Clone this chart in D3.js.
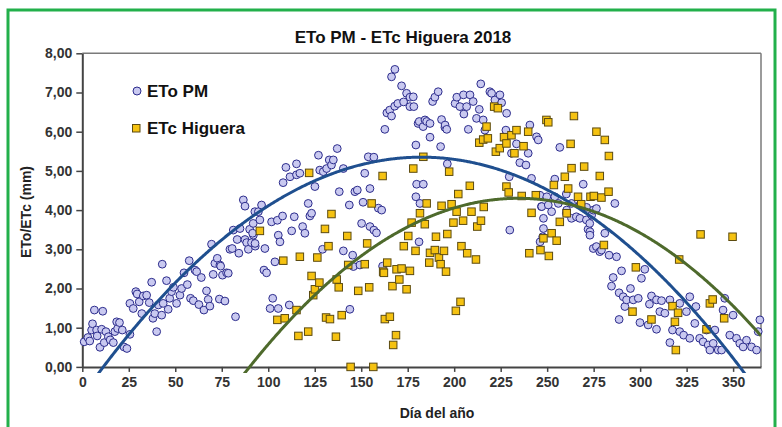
<!DOCTYPE html>
<html><head><meta charset="utf-8">
<script src="https://cdn.jsdelivr.net/npm/d3@7"></script>
<style>body{margin:0;background:#fff}svg{display:block}text{font-family:"Liberation Sans",Arial,sans-serif}</style>
</head><body><svg id="c" width="782" height="427"></svg>
<script>
const title = "ETo PM - ETc Higuera 2018";
const seriesNames = ["ETo PM", "ETc Higuera"];
const xTicks = [0,25,50,75,100,125,150,175,200,225,250,275,300,325,350];
const yTicks = [0,1,2,3,4,5,6,7,8];
// [day, mm]
const etoPoints = [
[1,0.64],[3,0.75],[4,0.66],[5,0.94],[5.5,1.1],[6.5,1.45],[7.7,0.94],[8,0.79],[9.5,0.5],[10.4,0.96],[11,1.42],[11.8,0.62],[12.7,0.9],[14,0.77],[15,0.69],[16.7,0.62],[17.5,0.9],[18.5,1.15],[19,0.98],[20,1.13],[21.5,0.94],[22.4,0.51],[24,0.47],[25.6,0.83],[25.6,1.62],[27.4,1.49],[28.8,1.92],[29.5,1.86],[30.6,1.66],[32,1.36],[32.8,1.81],[34.6,1.83],[36,1.64],[37.3,2.16],[38,1.24],[39,1.36],[40,0.9],[40.9,1.58],[42.7,1.32],[43,2.62],[43.5,1.62],[45.3,2.2],[46.2,1.47],[47,1.75],[48,1.92],[49,2.03],[50.7,1.62],[52.5,1.83],[53.4,2.0],[54.7,2.4],[56.5,2.1],[57.5,2.71],[58.2,1.75],[59.7,1.69],[60.6,2.47],[61.5,2.43],[62.7,1.59],[64,2.28],[65.4,1.45],[66.8,1.94],[67.7,1.72],[68.6,1.55],[69.5,3.13],[70.4,2.36],[71.3,2.64],[72.6,2.77],[73.7,1.73],[74,2.6],[74.4,2.57],[75.4,2.34],[76.7,1.68],[77.6,2.4],[78.5,2.39],[79.4,3.0],[80.6,3.02],[81.2,3.49],[82.4,1.28],[83.3,3.25],[84.2,2.9],[84.8,3.53],[86.6,4.26],[87.5,4.1],[87.5,3.25],[88.4,3.17],[89.3,3.0],[90,3.51],[91,3.17],[92,3.36],[92.8,3.96],[93,3.08],
[91.6,3.41],[91.9,3.66],[92.9,3.15],[94.7,3.96],[95.5,3.75],[96.4,4.13],[97.7,2.47],[98.2,3.02],[99.1,2.4],[101,1.49],[101.8,3.7],[102.4,1.75],[103.6,2.68],[104.9,3.74],[105.4,3.36],[105.4,1.49],[106.3,3.19],[107.7,3.85],[108,4.7],[109.5,5.09],[111.3,1.58],[111.7,4.85],[112.6,3.47],[114,3.83],[115.2,5.18],[115.2,4.9],[117,4.94],[118.5,3.58],[119.7,3.41],[121.5,4.17],[122.4,3.85],[123.3,3.92],[125.1,4.6],[127,5.4],[127.7,5.02],[129.2,3.0],[129.6,4.98],[131.4,5.06],[132.8,5.28],[134,5.15],[135,5.28],[137.1,5.57],[138.2,4.47],[140.4,5.06],[140.4,2.96],[143.6,4.13],[143.9,1.47],[145.4,2.85],[145.8,2.56],[146.6,4.47],[147.9,4.51],[149.3,2.6],[150.2,3.66],[151,4.2],[151.9,4.94],[153.8,5.36],[154.7,4.55],[154.7,3.58],[156.8,5.35],[156.8,3.49],[158.2,3.42],[159.2,4.05],[161,4.0],[161.5,2.57],[162.7,6.06],[163.8,6.48],[165.3,6.55],[166.3,7.4],[166.3,6.4],[168,6.65],[168.1,7.59],[169.7,6.72],[171.7,7.17],[172.8,6.76],[174.4,6.98],[176.2,6.88],[176.2,6.64],[178,6.89],[178.3,6.64],[179.4,5.66],[179.4,4.34],[179.8,4.66],[180.6,6.21],[181.1,3.19],[181.2,6.26],[181.6,4.17],[183.3,6.13],[184.3,6.3],
[183.4,4.66],[185.2,6.26],[187,6.21],[187,5.86],[188.4,6.77],[189.6,6.88],[191.4,7.02],[192.7,5.62],[193.2,6.31],[195,6.11],[195.1,6.17],[196,6.06],[196.3,5.18],[200.5,6.72],[201.4,6.88],[203.1,6.64],[205,6.94],[205.2,6.45],[206.7,6.64],[207.6,6.06],[208.5,6.94],[210.2,6.77],[212,6.34],[213.5,6.57],[214.3,7.22],[215.6,6.3],[216.5,6.04],[219.2,7.02],[220.1,6.98],[221.9,6.81],[224.6,6.94],[225.5,6.74],[227.8,6.04],[228.2,6.47],[229.6,4.85],[229.9,3.49],[230.8,5.45],[233.5,5.69],[235.3,5.21],[238.6,5.15],[239.8,5.45],[240.7,6.17],[241.6,4.81],[244.3,5.87],[245.2,5.79],[246.1,4.38],[246.2,3.19],[246.9,4.09],[247.1,4.09],[247.6,3.32],[248,3.79],[248,3.53],[249.8,4.34],[250.6,4.13],[252.4,3.96],[254.1,4.79],[254.1,4.34],[256,4.17],[256.8,5.6],[260.3,4.41],[260.3,3.92],[260.5,4.0],[263.1,4.17],[263.1,3.79],[265.7,3.83],[267.6,4.13],[267.6,3.79],[269.4,4.66],[271.1,3.75],[271.2,4.07],[272,3.51],[272.9,3.66],[273,3.45],[273,3.36],[273.9,3.87],[274.8,4.0],[274.8,3.02],[276.5,4.04],[276.5,3.07],[278.3,2.94],[279.2,2.98],[281,3.41],[283.3,2.85],[284.6,2.06],[285.5,2.28],[286.4,4.17],[287.3,2.81],[288.7,1.89],[288.7,1.21],[290,2.45],[290.9,1.79],[291.8,1.54],[292.7,1.71],[294.8,2.0],[296.3,1.71],[299,1.75],[299.9,1.13],[300.7,2.26],[302.5,2.49],[304.3,1.07],[305,1.6],[306.1,1.81],[308.8,1.71],[308.8,0.96],[310.6,1.41],[311.5,1.69],[313.3,1.37],[316,1.71],[316,0.62],[317.4,0.94],[321.3,1.62],[321.3,0.9],[323.4,0.81],[324.9,1.41],[326.7,1.79],[326.7,0.73],[329.4,1.11],[330,1.54],[332,0.73],[333.9,0.64],[335.7,0.94],[336.6,0.56],[337.5,0.43],[339.3,0.6],[340.2,0.94],[342,0.43],[343.8,0.43],[344.6,1.45],[345.5,1.75],[348.2,0.81],[350,1.32],[351.8,0.73],[353.6,0.6],[355.4,0.51],[357.2,0.68],[359.9,0.51],[362.6,0.43],[363.5,0.9],[364.4,1.2]
];
const etcPoints = [
[95.5,3.47],[104.9,1.2],[108.1,2.71],[108.9,1.24],[115.2,1.45],[116.2,0.79],[117,2.81],[121.5,0.9],[122,4.95],[123.3,2.32],[124.2,1.83],[125.1,1.98],[126.4,2.79],[127.5,2.15],[130.5,3.52],[131.1,1.26],[132.4,3.08],[133.2,1.22],[134,3.9],[136.4,0.77],[136.8,2.23],[137.9,2.03],[139.5,1.32],[142.5,3.34],[143,2.6],[144.3,0.0],[148.4,1.94],[151.9,2.62],[153.2,3.15],[154.3,2.03],[155.6,4.17],[156.5,0.0],[161.5,4.87],[161.8,2.43],[162.2,2.4],[162.7,1.22],[164,2.66],[165.4,1.28],[166.8,2.06],[167.2,0.56],[168.7,0.81],[169,2.49],[170.5,2.23],[171.7,2.51],[172.9,3.08],[174.4,1.98],[175.3,3.34],[176.2,2.45],[177.1,3.68],[178,5.06],[179.2,2.96],[181.6,3.92],[183.4,5.36],
[184.2,3.64],[185.2,4.17],[186.6,2.66],[187,2.91],[189.6,2.98],[190.2,3.32],[191.8,2.79],[192.7,2.62],[193.2,4.11],[194.5,2.96],[195.6,2.43],[196.3,3.39],[197.3,4.98],[198.6,4.15],[199.6,3.68],[200.9,1.43],[201.3,3.96],[202.2,4.41],[203.4,1.66],[203.9,3.08],[204.8,3.73],[207,2.9],[208.4,4.62],[209.3,3.96],[211.7,2.74],[212.4,3.58],[213.5,5.72],[214.4,3.73],[215.6,5.8],[215.9,4.08],[217.4,6.13],[218.1,5.83],[221.5,6.64],[222.4,5.49],[223.5,6.6],[224.5,5.58],[226.8,5.86],[228.1,5.7],[228.1,4.6],[229.3,4.45],[230.8,5.91],[232.4,5.45],[233.5,6.04],[236.3,4.36],[237.3,5.63],[239.8,6.0],[240.4,2.9],[241.6,3.93],[243.9,4.38],[246.4,2.98],[248,3.28],[249.6,6.3],[250.6,6.24],[250.9,2.83],[252.4,3.41],[253.6,4.64],[255.1,3.22],[256.8,3.7],[259.5,4.85],[260.5,3.92],[261.3,4.55],[262.6,5.69],[263.1,5.07],[264.4,6.4],[266.6,4.34],[268.3,4.15],[269.9,5.11],[273.3,4.34],[275.1,4.36],[276.5,6.0],[278.3,4.87],[279.2,4.32],[280.5,3.11],[281,5.79],[283,4.47],[283.2,5.38],[295.9,1.41],[297.7,2.54],[306.1,1.21],[317.4,1.55],[318.7,1.15],[319.2,0.43],[320.4,1.38],[321,2.74],[332.5,3.38],[335.7,0.96],[337.5,1.62],[339,1.72],[345.2,1.24],[349.7,3.32]
];
// polynomial trendlines y = a*x^2 + b*x + c
const etoTrend = [-1.8265e-4, 0.06665, -0.7298];
const etcTrend = [-2.0594e-4, 0.09659, -7.025];

const svg = d3.select("#c");
const L = 82.3, R = 761, T = 53.3, B = 366.9;
const x = d3.scaleLinear().domain([0,365]).range([L,R]);
const y = d3.scaleLinear().domain([0,8]).range([B,T]);
const fmt = v => d3.format(".2f")(v).replace(".", ",");

svg.append("rect").attr("x",0).attr("y",0).attr("width",782).attr("height",427).attr("fill","#fff");
svg.append("rect").attr("x",8).attr("y",10).attr("width",767).attr("height",430)
  .attr("fill","none").attr("stroke","#22b04b").attr("stroke-width",3);

svg.append("text").attr("x",403).attr("y",43).attr("text-anchor","middle")
  .attr("font-size",17).attr("font-weight","bold").attr("fill","#111").text(title);

svg.append("defs").append("clipPath").attr("id","clip").append("rect")
  .attr("x",L).attr("y",T).attr("width",R-L).attr("height",B-T+6);

// frame
svg.append("line").attr("x1",L).attr("x2",R).attr("y1",T).attr("y2",T).attr("stroke","#7a7a7a").attr("stroke-width",1.5);
svg.append("line").attr("x1",R).attr("x2",R).attr("y1",T).attr("y2",B).attr("stroke","#7a7a7a").attr("stroke-width",1.5);

const yAxis = svg.append("g").attr("transform",`translate(${L},0)`)
  .call(d3.axisLeft(y).tickValues(yTicks).tickFormat(fmt).tickSize(6).tickSizeOuter(0).tickPadding(4));
const xAxis = svg.append("g").attr("transform",`translate(0,${B})`)
  .call(d3.axisBottom(x).tickValues(xTicks).tickSize(5).tickSizeOuter(0).tickPadding(5));
[yAxis,xAxis].forEach(g=>{
  g.select(".domain").attr("stroke","#444").attr("stroke-width",2);
  g.selectAll(".tick line").attr("stroke","#444").attr("stroke-width",1.5);
  g.selectAll(".tick text").attr("font-size",14).attr("font-weight","bold").attr("fill","#333")
   .style("font-family","'Liberation Sans',Arial,sans-serif");
});

svg.append("text").attr("transform","translate(31,212) rotate(-90)").attr("text-anchor","middle")
  .attr("font-size",14).attr("font-weight","bold").attr("fill","#222").text("ETo/ETc (mm)");
svg.append("text").attr("x",437).attr("y",418).attr("text-anchor","middle")
  .attr("font-size",14).attr("font-weight","bold").attr("fill","#222").text("Día del año");

const pts = svg.append("g");
pts.selectAll("circle").data(etoPoints).join("circle")
  .attr("cx",d=>x(d[0])).attr("cy",d=>y(d[1])).attr("r",3.9)
  .attr("fill","#c9c9f0").attr("stroke","#2c2c8c").attr("stroke-width",1);
const s = 7.5;
pts.selectAll("rect").data(etcPoints).join("rect")
  .attr("x",d=>x(d[0])-s/2).attr("y",d=>y(d[1])-s/2).attr("width",s).attr("height",s)
  .attr("fill","#f5c211").attr("stroke","#5c4b10").attr("stroke-width",1);

const days = d3.range(0,365.5,0.5);
const poly = (c,t) => c[0]*t*t + c[1]*t + c[2];
const lineGen = coef => d3.line().x(d=>x(d)).y(d=>y(poly(coef,d)))(days.filter(d=>poly(coef,d) > -0.3));
const tg = svg.append("g").attr("clip-path","url(#clip)");
tg.append("path").attr("d",lineGen(etoTrend)).attr("fill","none").attr("stroke","#1f4f8f").attr("stroke-width",3);
tg.append("path").attr("d",lineGen(etcTrend)).attr("fill","none").attr("stroke","#4e6a2c").attr("stroke-width",3);

// legend
svg.append("circle").attr("cx",137).attr("cy",91).attr("r",4).attr("fill","#c9c9f0").attr("stroke","#2c2c8c");
svg.append("text").attr("x",147).attr("y",97).attr("font-size",17).attr("font-weight","bold").attr("fill","#111").text(seriesNames[0]);
svg.append("rect").attr("x",132.5).attr("y",124.5).attr("width",7.5).attr("height",7.5).attr("fill","#f5c211").attr("stroke","#5c4b10");
svg.append("text").attr("x",147).attr("y",134).attr("font-size",17).attr("font-weight","bold").attr("fill","#111").text(seriesNames[1]);
</script></body></html>
